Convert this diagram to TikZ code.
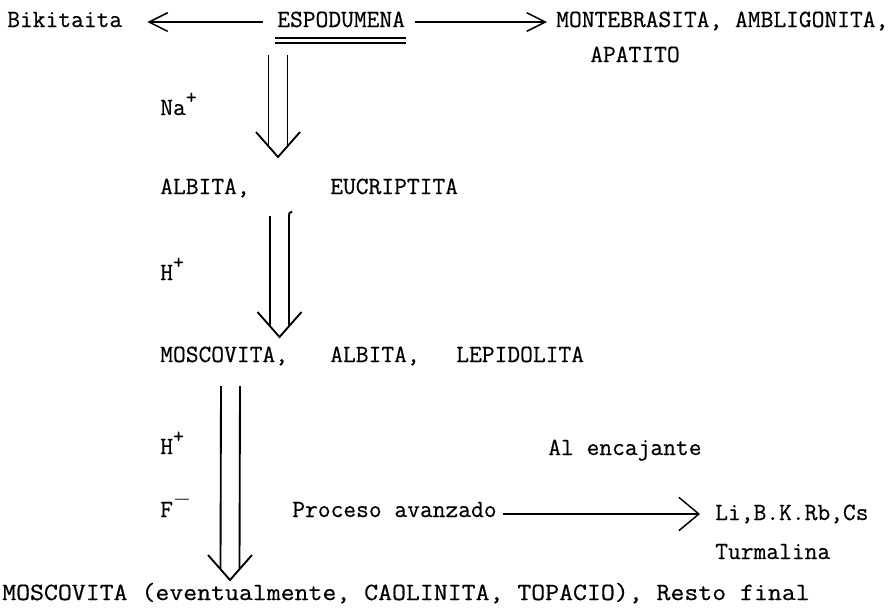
\documentclass[tikz,border=0pt]{standalone}
\usepackage{fontspec}
\setmonofont{Latin Modern Mono}[FakeBold=0.5]
\usetikzlibrary{calc,arrows.meta}

\tikzset{
  txt/.style={anchor=base west, inner sep=0pt, font=\fontsize{18.6}{23}\selectfont\ttfamily},
  flecha/.style={line width=1.1pt, -{Straight Barb[length=14pt,width=14pt]}},
  dbl/.style={line width=1.4pt},
}
% raised sign after an ion
\newcommand{\ion}[1]{\raisebox{0.45em}{\fontsize{16}{16}\selectfont#1}}
% double shaft with open head, from #1 down to the tip #2
\newcommand{\dblarrow}[2]{%
  \draw[dbl] ($(#1)+(-9.5,0)$) -- ($(#2)+(-9.5,-11)$);
  \draw[dbl] ($(#1)+(9.5,0)$) -- ($(#2)+(9.5,-11)$);
  \draw[dbl] ($(#2)+(-22,-25)$) -- (#2) -- ($(#2)+(22,-25)$);
}

\begin{document}
\begin{tikzpicture}[x=0.75pt,y=0.75pt,yscale=-1,xscale=1]
\useasboundingbox (0,0) rectangle (893,612);

% Text Node
\draw (7,27) node [txt] (bikitaita) {Bikitaita};
% Text Node
\draw (277,27) node [txt] (espodumena) {ESPODUMENA};
% Text Node
\draw (556,27) node [txt] (montebrasita) {MONTEBRASITA, AMBLIGONITA,};
% Text Node
\draw (590,62) node [txt] (apatito) {APATITO};
% Text Node
\draw (160,115) node [txt] (na) {Na\ion{+}};
% Text Node
\draw (160,194) node [txt] (albita) {ALBITA,};
% Text Node
\draw (330,194) node [txt] (eucriptita) {EUCRIPTITA};
% Text Node
\draw (160,280) node [txt] (hplus) {H\ion{+}};
% Text Node
\draw (160,362) node [txt] (moscovita) {MOSCOVITA,};
% Text Node
\draw (330,362) node [txt] (albitab) {ALBITA,};
% Text Node
\draw (456,362) node [txt] (lepidolita) {LEPIDOLITA};
% Text Node
\draw (160,454) node [txt] (hplusb) {H\ion{+}};
% Text Node
\draw (548,455) node [txt] (encajante) {Al encajante};
% Text Node
\draw (160,517) node [txt] (fminus) {F\ion{$-$}};
% Text Node
\draw (292,517) node [txt] (proceso) {Proceso avanzado};
% Text Node
\draw (715,520) node [txt] (elementos) {Li,B.K.Rb,Cs};
% Text Node
\draw (715,559) node [txt] (turmalina) {Turmalina};
% Text Node
\draw (2,600) node [txt] (resto) {\scalebox{1.09}[1]{MOSCOVITA (eventualmente, CAOLINITA, TOPACIO), Resto final}};

%Double underline
\draw[line width=1.2pt] ($(espodumena.base west)+(-2,11)$) -- ($(espodumena.base east)+(1,11)$);
\draw[line width=1.2pt] ($(espodumena.base west)+(-2,16)$) -- ($(espodumena.base east)+(1,16)$);

%Straight Lines
\draw[flecha] ($(espodumena.base west)+(-14,-5)$) -- ($(bikitaita.base east)+(25,-5)$);
\draw[flecha] ($(espodumena.base east)+(10,-5)$) -- ($(montebrasita.base west)+(-9,-5)$);
\draw[flecha,-{Straight Barb[length=15pt,width=25pt]}] ($(proceso.base east)+(6,-3)$) -- ($(elementos.base west)+(-15,-6)$);

%Double arrows
\coordinate (a1s) at (278,55);
\coordinate (a1e) at (278,157);
\dblarrow{a1s}{a1e}

\coordinate (a2s) at (279.5,216);
\coordinate (a2e) at (279.5,337);
\dblarrow{a2s}{a2e}
\draw[dbl] ($(a2s)+(9.5,0)$) .. controls ($(a2s)+(9.5,-3)$) .. ($(a2s)+(12.5,-4.5)$);

\coordinate (a3s) at (230.5,386);
\coordinate (a3e) at (230,580);
\dblarrow{a3s}{a3e}

\end{tikzpicture}
\end{document}
